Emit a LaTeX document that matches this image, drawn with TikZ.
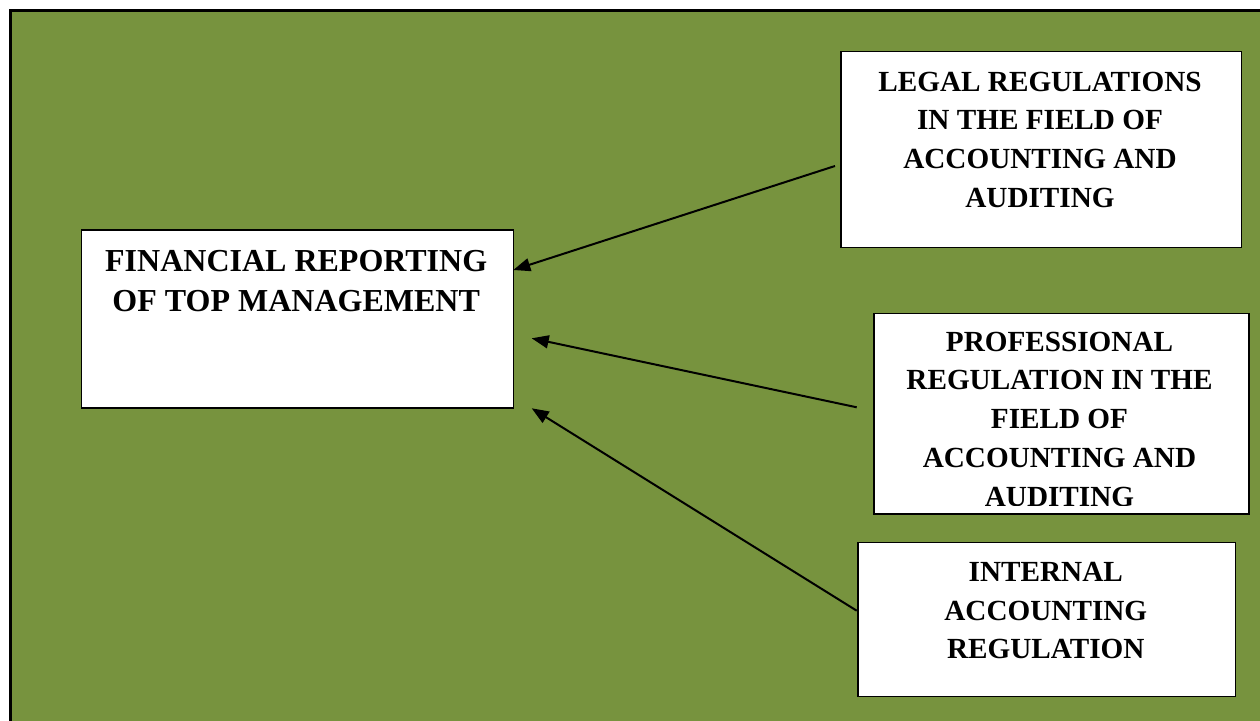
\documentclass[tikz,border=0pt]{standalone}
\usepackage{fontspec}
\setmainfont{Liberation Serif}
\usetikzlibrary{arrows.meta}
\definecolor{bggreen}{RGB}{119,147,62}
\tikzset{
  box/.style={draw=black, fill=white, line width=0.75pt, inner sep=0pt, anchor=north west},
  boxtext/.style={align=center, inner sep=0pt, anchor=north, font=\fontsize{14.6pt}{19.3pt}\selectfont\bfseries},
  conn/.style={line width=1pt, -{Triangle[length=8.5pt,width=6.5pt]}}
}
\begin{document}
\begin{tikzpicture}[x=0.5pt,y=-0.5pt]
\useasboundingbox (0,0) rectangle (1260,721);
\begin{scope}
\clip (0,0) rectangle (1260,721);
\draw[fill=bggreen, line width=1.5pt] (10.5,10.5) rectangle (1275,735);
\end{scope}
% boxes
\node[box, minimum width=216pt, minimum height=89pt] (main) at (80.7,229.3) {};
\node[box, minimum width=200.3pt, minimum height=98pt] (legal) at (840,50.7) {};
\node[box, minimum width=187.5pt, minimum height=100.3pt] (prof) at (873.3,312.7) {};
\node[box, minimum width=188.8pt, minimum height=77pt] (intl) at (857.3,541.7) {};
% texts
\node[boxtext, font=\fontsize{16pt}{20.3pt}\selectfont\bfseries] (maintext) at (296.2,249.7) {FINANCIAL REPORTING\\OF TOP MANAGEMENT};
\node[boxtext] (legaltext) at (1040,71.5) {LEGAL REGULATIONS\\IN THE FIELD OF\\ACCOUNTING AND\\AUDITING};
\begin{scope}
\clip (873.3,312.7) rectangle (1248.3,505.5);
\node[boxtext, font=\fontsize{14.6pt}{19.35pt}\selectfont\bfseries] (proftext) at (1059.5,331.5) {PROFESSIONAL\\REGULATION IN THE\\FIELD OF\\ACCOUNTING AND\\AUDITING};
\end{scope}
\node[boxtext] (intltext) at (1045.8,562) {INTERNAL\\ACCOUNTING\\REGULATION};
% connector ends
\coordinate (s1) at (835,166);
\coordinate (t1) at (513.3,270);
\coordinate (s2) at (856.7,407.3);
\coordinate (t2) at (531.7,338.3);
\coordinate (s3) at (856.7,610.7);
\coordinate (t3) at (531.7,408.3);
\draw[conn] (s1) -- (t1);
\draw[conn] (s2) -- (t2);
\draw[conn] (s3) -- (t3);
\end{tikzpicture}
\end{document}
